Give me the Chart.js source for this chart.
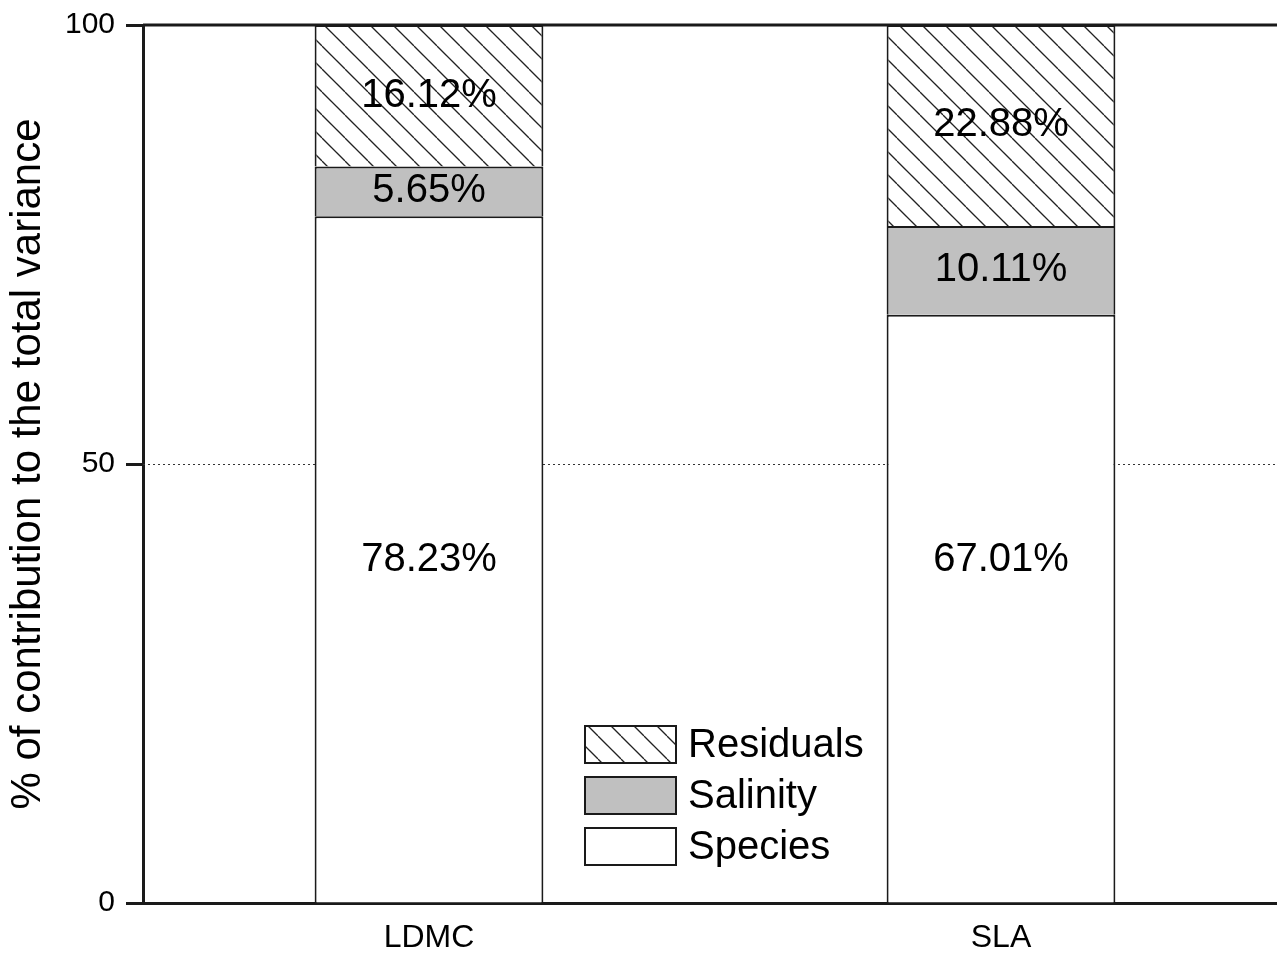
<!DOCTYPE html>
<html>
<head>
<meta charset="utf-8">
<script src="https://cdn.jsdelivr.net/npm/chart.js@4.4.0/dist/chart.umd.min.js"></script>
<style>
  html, body { margin: 0; padding: 0; background: #fff; overflow: hidden; }
  #wrap { width: 1287px; height: 953px; }
</style>
</head>
<body>
<div id="wrap"><canvas id="varChart" width="1287" height="953"></canvas></div>
<script>
const traits = ['LDMC', 'SLA'];
const species = [78.23, 67.01];
const salinity = [5.65, 10.11];
const residuals = [16.12, 22.88];
const yTicks = [0, 50, 100];

const FONT = '"Liberation Sans", Arial, sans-serif';
const INK = '#1a1a1a';

// diagonal hatch used for the residuals
function makeHatch() {
    const s = 23;
    const c = document.createElement('canvas');
    c.width = s; c.height = s;
    const g = c.getContext('2d');
    g.fillStyle = '#fff';
    g.fillRect(0, 0, s, s);
    g.strokeStyle = '#222';
    g.lineWidth = 1.3;
    [-s, 0, s].forEach(k => {
        g.beginPath();
        g.moveTo(k, 0);
        g.lineTo(k + s, s);
        g.stroke();
    });
    return document.getElementById('varChart').getContext('2d').createPattern(c, 'repeat');
}

const guides = {
    id: 'guides',
    beforeDatasetsDraw(chart) {
        const { ctx, chartArea, scales: { y } } = chart;
        const py = Math.round(y.getPixelForValue(50)) + 0.5;
        ctx.save();
        ctx.strokeStyle = '#333';
        ctx.lineWidth = 1;
        ctx.setLineDash([2, 3]);
        ctx.beginPath();
        ctx.moveTo(chartArea.left, py);
        ctx.lineTo(chartArea.right, py);
        ctx.stroke();
        ctx.restore();
    },
    afterDatasetsDraw(chart) {
        const { ctx, chartArea, scales: { y } } = chart;
        const py = y.getPixelForValue(100);
        ctx.save();
        ctx.strokeStyle = INK;
        ctx.lineWidth = 3;
        ctx.beginPath();
        ctx.moveTo(chartArea.left, py);
        ctx.lineTo(chartArea.right, py);
        ctx.stroke();
        ctx.restore();
    }
};

// values written into the segments; the bottom series shares one height
const segLabels = {
    id: 'segLabels',
    afterDatasetsDraw(chart) {
        const ctx = chart.ctx;
        const yScale = chart.scales.y;
        const baseY = yScale.getPixelForValue(Math.max(...chart.data.datasets[0].data) / 2);
        ctx.save();
        ctx.font = '40px ' + FONT;
        ctx.textAlign = 'center';
        ctx.textBaseline = 'middle';
        ctx.fillStyle = '#000';
        chart.data.datasets.forEach((ds, di) => {
            chart.getDatasetMeta(di).data.forEach((bar, i) => {
                const mid = di === 0 ? baseY : (bar.y + bar.base) / 2;
                ctx.fillText(ds.data[i].toFixed(2) + '%', bar.x, mid);
            });
        });
        ctx.restore();
    }
};

const legendBox = {
    id: 'legendBox',
    afterDraw(chart) {
        const ctx = chart.ctx;
        const x0 = 585, y0 = 726, w = 91, h = 37, gap = 51;
        ctx.save();
        ctx.font = '40px ' + FONT;
        ctx.textBaseline = 'middle';
        chart.data.datasets.slice().reverse().forEach((ds, i) => {
            const top = y0 + i * gap;
            ctx.fillStyle = ds.backgroundColor;
            ctx.fillRect(x0, top, w, h);
            ctx.lineWidth = 2;
            ctx.strokeStyle = INK;
            ctx.strokeRect(x0, top, w, h);
            ctx.fillStyle = '#000';
            ctx.fillText(ds.label, x0 + w + 12, top + h / 2 + 1);
        });
        ctx.restore();
    }
};

const barStyle = { borderColor: INK, borderWidth: 2, inflateAmount: 0,
                   barPercentage: 0.4, categoryPercentage: 1 };

new Chart(document.getElementById('varChart'), {
    type: 'bar',
    data: {
        labels: traits,
        datasets: [
            Object.assign({ label: 'Species', data: species, backgroundColor: '#ffffff' }, barStyle),
            Object.assign({ label: 'Salinity', data: salinity, backgroundColor: '#c0c0c0' }, barStyle),
            Object.assign({ label: 'Residuals', data: residuals, backgroundColor: makeHatch() }, barStyle)
        ]
    },
    options: {
        responsive: false,
        animation: false,
        layout: { padding: { top: 25, right: 0, bottom: 0, left: 0 } },
        plugins: { legend: { display: false }, tooltip: { enabled: false } },
        scales: {
            x: {
                stacked: true,
                grid: { display: false, drawTicks: false },
                border: { display: true, color: INK, width: 3 },
                ticks: { color: '#000', font: { family: FONT, size: 32 }, padding: 16 },
                afterFit: s => { s.height = 50; }
            },
            y: {
                stacked: true,
                min: 0,
                max: 100,
                afterBuildTicks: s => { s.ticks = yTicks.map(v => ({ value: v })); },
                grid: { drawOnChartArea: false, drawTicks: true, tickLength: 17,
                        tickWidth: 3, tickColor: INK, color: INK },
                border: { display: true, color: INK, width: 3 },
                ticks: { color: '#000', font: { family: FONT, size: 30, lineHeight: 1 }, padding: 11 },
                title: {
                    display: true,
                    text: '% of contribution to the total variance',
                    color: '#000',
                    font: { family: FONT, size: 42 },
                    padding: { top: 3, bottom: 0 }
                },
                afterFit: s => { s.width = 143; s.paddingTop = 0; }
            }
        }
    },
    plugins: [guides, segLabels, legendBox]
});
</script>
</body>
</html>
